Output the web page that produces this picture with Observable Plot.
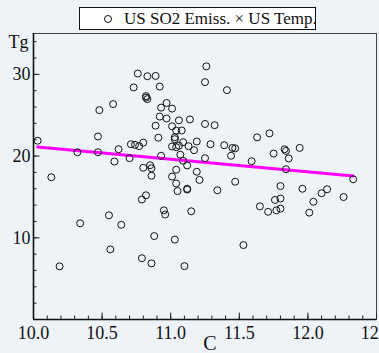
<!DOCTYPE html>
<html><head><meta charset="utf-8">
<script src="https://cdn.jsdelivr.net/npm/d3@7"></script>
<script src="https://cdn.jsdelivr.net/npm/@observablehq/plot@0.6"></script>
<style>
html,body{margin:0;padding:0;background:#edf3f7;}
#wrap{position:relative;width:379px;height:353px;overflow:hidden;background:#edf3f7;}
#wrap svg text{font-family:"Liberation Serif","Times New Roman",serif;}
#legend{position:absolute;left:79px;top:7px;width:237px;height:23px;background:#fff;border:1px solid #111;box-sizing:border-box;font-family:"Liberation Serif","Times New Roman",serif;font-size:17px;color:#111;white-space:nowrap;}
#legend svg{position:absolute;left:23px;top:6px;}
#legend span{position:absolute;left:44px;top:0px;line-height:21px;}
</style>
</head><body>
<div id="wrap"><div id="legend"><svg width="10" height="10"><circle cx="5" cy="5" r="3.5" fill="none" stroke="#111" stroke-width="1"/></svg><span>US SO2 Emiss. × US Temp.</span></div></div>
<script>
const seriesName = "US SO2 Emiss. × US Temp.";
const xLabel = "C";
const yLabel = "Tg";
const tempC = [10.03,10.13,10.19,10.32,10.34,10.47,10.47,10.48,10.55,10.56,10.58,10.59,10.62,10.64,10.70,10.71,10.74,10.77,10.76,10.73,10.79,10.82,10.79,10.80,10.80,10.82,10.82,10.83,10.83,10.85,10.86,10.86,10.86,10.88,10.89,10.89,10.91,10.92,10.92,10.93,10.93,10.95,10.96,10.97,10.97,11.01,11.01,11.01,11.01,11.03,11.03,11.03,11.04,11.08,11.04,11.06,11.04,11.04,11.05,11.06,11.07,11.09,11.09,11.10,11.12,11.12,11.12,11.13,11.14,11.15,11.17,11.19,11.19,11.21,11.25,11.26,11.25,11.25,11.29,11.32,11.34,11.39,11.41,11.44,11.45,11.47,11.47,11.53,11.59,11.63,11.65,11.72,11.71,11.75,11.76,11.77,11.80,11.80,11.80,11.83,11.84,11.86,11.84,11.94,11.96,12.01,12.04,12.10,12.14,12.26,12.33];
const so2Tg = [21.88,17.41,6.50,20.47,11.77,22.40,20.47,25.62,12.75,8.58,26.36,19.33,20.84,11.59,19.74,21.45,21.37,21.21,30.10,28.40,14.69,15.20,7.50,21.64,18.57,27.34,27.15,26.97,29.77,18.88,18.51,17.59,6.87,10.21,29.81,23.72,22.25,28.50,24.83,25.93,20.04,13.36,12.85,26.50,24.60,25.81,23.64,21.17,17.49,22.31,22.07,9.78,23.11,23.13,21.09,21.27,18.33,16.65,15.72,24.37,20.17,21.70,19.43,6.53,18.85,16.00,15.90,21.21,24.48,13.24,20.72,21.78,18.08,17.08,29.05,30.98,23.93,19.74,21.45,23.78,15.81,21.33,28.07,20.04,21.00,20.94,16.86,9.11,19.37,22.29,13.85,22.78,13.18,20.31,14.63,13.36,16.33,14.80,13.57,20.84,20.63,19.71,18.39,21.00,16.00,13.08,14.41,15.45,15.94,14.99,17.16];
const fitX = [10.03, 12.33];
const fitY = [21.12, 17.57];
const xMajorTicks = [10.0, 10.5, 11.0, 11.5, 12.0, 12.5];
const yMajorTicks = [10, 20, 30];
const xMinorTicks = d3.range(0, 26).map(i => +(10 + i * 0.1).toFixed(1));
const yMinorTicks = d3.range(1, 18).map(i => i * 2);

const pts = tempC.map((x, i) => ({x, y: so2Tg[i]}));
const fit = fitX.map((x, i) => ({x, y: fitY[i]}));

const W = 379, H = 353, mL = 33, mR = 3, mT = 33, mB = 34;
const fw = W - mL - mR, fh = H - mT - mB;
const serif = "Liberation Serif";

const chart = Plot.plot({
  width: W, height: H,
  marginLeft: mL, marginRight: mR, marginTop: mT, marginBottom: mB,
  x: {domain: [10, 12.5], label: null, axis: null},
  y: {domain: [0, 35], label: null, axis: null},
  style: {background: "transparent", fontFamily: serif, fontSize: "18px", color: "#111", overflow: "visible"},
  marks: [
    Plot.frame({stroke: "#444", strokeWidth: 1}),
    Plot.tickX(xMinorTicks, {x: d => d, insetTop: fh - 3.5, stroke: "#222", strokeWidth: 1}),
    Plot.tickX(xMajorTicks, {x: d => d, insetTop: fh - 6.5, stroke: "#222", strokeWidth: 1}),
    Plot.tickY(yMinorTicks, {y: d => d, insetRight: fw - 3.5, stroke: "#222", strokeWidth: 1}),
    Plot.tickY(yMajorTicks, {y: d => d, insetRight: fw - 6.5, stroke: "#222", strokeWidth: 1}),
    Plot.text(xMajorTicks, {x: d => d, text: d => d3.format(".1f")(d), frameAnchor: "bottom", dy: 7, lineAnchor: "top", textAnchor: "middle", fontSize: 18, fontFamily: serif, fill: "#111"}),
    Plot.text(yMajorTicks, {y: d => d, text: d => String(d), frameAnchor: "left", dx: -3, textAnchor: "end", lineAnchor: "middle", fontSize: 18, fontFamily: serif, fill: "#111"}),
    Plot.ruleX([10], {stroke: "#111", strokeWidth: 1.6}),
    Plot.ruleY([0], {stroke: "#111", strokeWidth: 1.6}),
    Plot.line(fit, {x: "x", y: "y", stroke: "#ff00ff", strokeWidth: 3}),
    Plot.dot(pts, {x: "x", y: "y", r: 3.5, fill: "none", stroke: "#111", strokeWidth: 1}),
    Plot.text([yLabel], {text: d => d, frameAnchor: "top-left", dx: -25, dy: 14, textAnchor: "start", lineAnchor: "bottom", fontSize: 18, fontFamily: serif, fill: "#111"}),
    Plot.text([xLabel], {text: d => d, frameAnchor: "bottom", dx: 5, dy: 30, textAnchor: "middle", lineAnchor: "bottom", fontSize: 20, fontFamily: serif, fill: "#111"})
  ]
});
chart.style.position = "absolute";
chart.style.left = "0px";
chart.style.top = "0px";
chart.style.fontFamily = "'Liberation Serif', serif";
document.getElementById("wrap").prepend(chart);
</script>
</body></html>
